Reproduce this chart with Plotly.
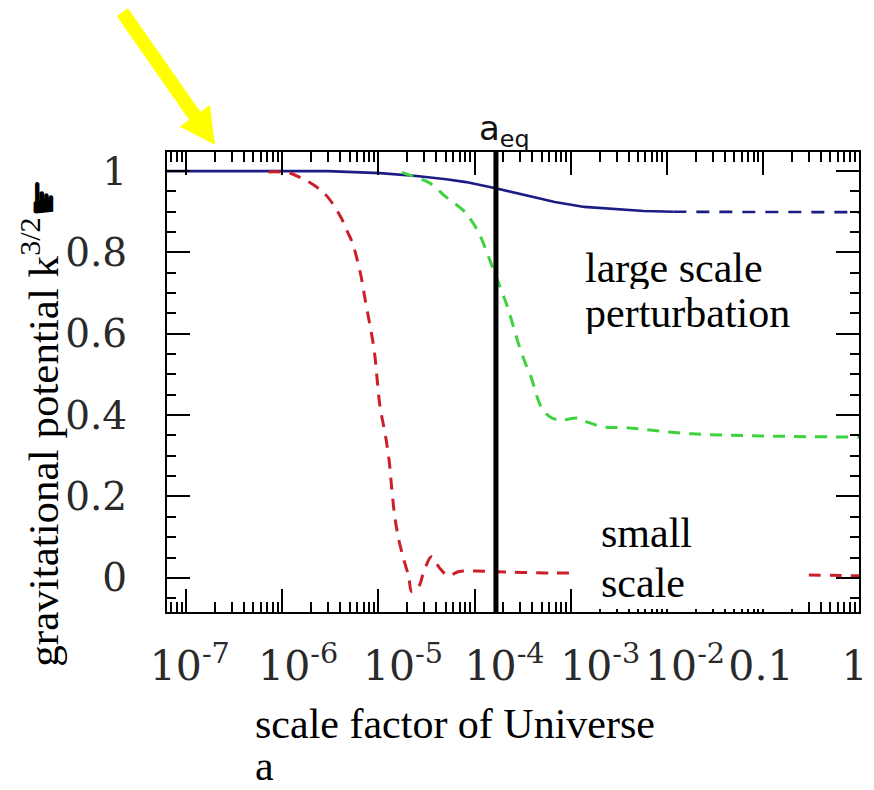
import plotly.graph_objects as go

# ---------------- data ----------------
BLUE_SOLID_A = [6.31e-8, 2.97e-6, 1.04e-5, 2.49e-5, 5.07e-5, 8.15e-5, 1.66e-4, 3.37e-4,
                6.84e-4, 1.39e-3, 2.82e-3, 5.74e-3, 1.17e-2]
BLUE_SOLID_Y = [1.0, 1.0, 0.995, 0.988, 0.98, 0.973, 0.958, 0.941, 0.924, 0.912, 0.907, 0.902, 0.900]
BLUE_DASH_A = [1.17e-2, 1.0]
BLUE_DASH_Y = [0.900, 0.899]

GREEN_A = [1.75e-5, 2.11e-5, 3.40e-5, 5.07e-5, 7.59e-5, 9.16e-5, 1.11e-4, 1.40e-4, 1.95e-4,
           2.20e-4, 2.47e-4, 2.85e-4, 3.37e-4, 3.97e-4, 4.47e-4, 5.14e-4, 6.37e-4, 8.07e-4,
           1.18e-3, 1.49e-3, 2.23e-3, 3.84e-3, 1.87e-2, 1.0]
GREEN_Y = [0.997, 0.99, 0.971, 0.936, 0.904, 0.880, 0.848, 0.789, 0.700, 0.666, 0.627, 0.577,
           0.528, 0.486, 0.445, 0.413, 0.393, 0.388, 0.393, 0.383, 0.371, 0.369, 0.354, 0.346]

RED_A = [7.19e-7, 1.16e-6, 1.57e-6, 2.24e-6, 2.97e-6, 4.05e-6, 4.78e-6, 5.37e-6, 6.49e-6,
         7.29e-6, 8.22e-6, 9.03e-6, 9.71e-6, 1.04e-5, 1.17e-5, 1.29e-5, 1.38e-5, 1.48e-5,
         1.63e-5, 1.84e-5, 2.07e-5, 2.22e-5, 2.62e-5, 2.94e-5, 3.56e-5, 4.30e-5, 5.32e-5,
         6.75e-5, 1.03e-4, 1.66e-4, 5.40e-4, 1.10e-3, 0.284, 1.0]
RED_Y = [0.998, 0.996, 0.983, 0.962, 0.936, 0.887, 0.85, 0.823, 0.749, 0.683, 0.617, 0.560,
         0.486, 0.420, 0.356, 0.290, 0.216, 0.150, 0.093, 0.044, 0.002, -0.034, -0.022, 0.012,
         0.052, 0.025, 0.005, 0.015, 0.017, 0.015, 0.012, 0.012, 0.007, 0.005]

A_EQ = 1.67e-4

X_MAJOR = [1e-7, 1e-6, 1e-5, 1e-4, 1e-3, 1e-2, 1e-1, 1.0]
X_LABEL_POS = [1.09e-7, 1.46e-6, 1.80e-5, 2.05e-4, 2.03e-3, 1.55e-2, 9.55e-2, 0.9]
X_LABELS = ["10<sup>-7</sup>", "10<sup>-6</sup>", "10<sup>-5</sup>", "10<sup>-4</sup>",
            "10<sup>-3</sup>", "10<sup>-2</sup>", "0.1", "1"]
Y_TICKS = [0, 0.2, 0.4, 0.6, 0.8, 1.0]
Y_LABELS = ["0", "0.2", "0.4", "0.6", "0.8", "1"]

X_RANGE_LOG = [-7.2, 0.0]
Y_RANGE = [-0.084, 1.047]

# minor tick positions (2..9 x each decade)
X_MINOR = [m * d for d in [1e-8, 1e-7, 1e-6, 1e-5, 1e-4, 1e-3, 1e-2, 1e-1] for m in range(2, 10)]

# ---------------- layout geometry ----------------
W, H = 874, 790
L, R, T, B = 167, 6, 152, 178
PW, PH = W - L - R, H - T - B


def px(x):
    return (x - L) / PW


def py(y):
    return (H - B - y) / PH


SERIF = "Liberation Serif"
XTICKFONT = dict(family="DejaVu Serif", size=41, color="#2a2a2a")
YTICKFONT = dict(family="DejaVu Serif", size=39, color="#2a2a2a")

fig = go.Figure()
fig.add_trace(go.Scatter(x=BLUE_SOLID_A, y=BLUE_SOLID_Y, mode="lines",
                         line=dict(color="#1c1c86", width=2.6), showlegend=False))
fig.add_trace(go.Scatter(x=BLUE_DASH_A, y=BLUE_DASH_Y, mode="lines",
                         line=dict(color="#1c1c86", width=2.6, dash="13px,10px"), showlegend=False))
fig.add_trace(go.Scatter(x=GREEN_A, y=GREEN_Y, mode="lines", line_shape="spline",
                         line=dict(color="#3ed23e", width=3, dash="12px,9px"), showlegend=False))
fig.add_trace(go.Scatter(x=RED_A, y=RED_Y, mode="lines", line_shape="spline",
                         line=dict(color="#cc1f2a", width=3, dash="12px,9px"), showlegend=False))
fig.add_trace(go.Scatter(x=[A_EQ, A_EQ], y=Y_RANGE, mode="lines",
                         line=dict(color="black", width=5), showlegend=False))
# invisible carriers so the overlaid tick/label axes get drawn
fig.add_trace(go.Scatter(x=X_MINOR, y=[0] * len(X_MINOR), xaxis="x2", mode="markers",
                         marker=dict(opacity=0), hoverinfo="skip", showlegend=False))
fig.add_trace(go.Scatter(x=X_LABEL_POS, y=[0] * len(X_LABEL_POS), xaxis="x3", mode="markers",
                         marker=dict(opacity=0), hoverinfo="skip", showlegend=False))

axis_common = dict(type="log", range=X_RANGE_LOG, autorange=False, showgrid=False, zeroline=False)
fig.update_layout(
    width=W, height=H,
    margin=dict(l=L, r=R, t=T, b=B, pad=0),
    paper_bgcolor="white", plot_bgcolor="white",
    xaxis=dict(**axis_common, tickmode="array", tickvals=X_MAJOR, ticks="inside", ticklen=23,
               tickwidth=1.5, tickcolor="black", showticklabels=False,
               showline=True, linecolor="black", linewidth=2, mirror="ticks"),
    xaxis2=dict(**axis_common, overlaying="x", anchor="y", side="bottom", tickmode="array",
                tickvals=X_MINOR, ticks="inside", ticklen=10, tickwidth=1.5, tickcolor="black",
                showticklabels=False, showline=True, linecolor="black", linewidth=2,
                mirror="ticks"),
    xaxis3=dict(**axis_common, overlaying="x", anchor="y", side="bottom", tickmode="array",
                tickvals=X_LABEL_POS, ticktext=X_LABELS, ticks="", showline=False,
                tickfont=XTICKFONT, ticklabelstandoff=26, ticklabeloverflow="allow"),
    yaxis=dict(range=Y_RANGE, autorange=False, tickmode="array", tickvals=Y_TICKS,
               ticktext=Y_LABELS, ticks="inside", ticklen=23, tickwidth=1.5, tickcolor="black",
               showgrid=False, zeroline=False, showline=True, linecolor="black",
               linewidth=2, mirror="ticks", tickfont=YTICKFONT, ticklabelstandoff=30,
               minor=dict(tick0=0, dtick=0.05, ticks="inside", ticklen=9, tickwidth=1.5,
                          tickcolor="black", showgrid=False)),
)

# white box behind "small scale"
fig.add_shape(type="rect", xref="paper", yref="paper", x0=px(581), x1=px(813),
              y0=py(609), y1=py(505), fillcolor="white", line=dict(width=0), layer="above")

# yellow arrow
tip = (215, 144)
poly = [(116.7, 16.3), (127.3, 8.7), (200.7, 112.4), (210.1, 105.8), tip,
        (180.7, 126.6), (190.0, 120.0)]
path = "M " + " L ".join(f"{px(x):.5f},{py(y):.5f}" for x, y in poly) + " Z"
fig.add_shape(type="path", xref="paper", yref="paper", path=path,
              fillcolor="#ffff00", line=dict(color="#ffff00", width=1), layer="above")

ann = [
    dict(text="large scale", x=px(588), y=py(268)),
    dict(text="perturbation", x=px(588), y=py(313)),
    dict(text="small", x=px(605), y=py(533)),
    dict(text="scale", x=px(605), y=py(583)),
    dict(text="scale factor of Universe", x=px(254), y=py(724)),
    dict(text="a", x=px(254), y=py(766)),
]
for a in ann:
    fig.add_annotation(text=a["text"], x=a["x"], y=a["y"], xref="paper", yref="paper",
                       xanchor="left", yanchor="middle", showarrow=False, height=42,
                       font=dict(family=SERIF, size=42, color="black"))

fig.add_annotation(text="gravitational potential k<sup>3/2</sup>☛", x=px(38), y=py(423),
                   xref="paper", yref="paper", xanchor="center", yanchor="middle",
                   textangle=-90, showarrow=False,
                   font=dict(family=SERIF, size=43, color="black"))

fig.add_annotation(text="a<sub>eq</sub>", x=px(509), y=py(131), xref="paper", yref="paper",
                   xanchor="center", yanchor="middle", showarrow=False,
                   font=dict(family="DejaVu Sans", size=34, color="#111"))

fig.write_html("out.html")
